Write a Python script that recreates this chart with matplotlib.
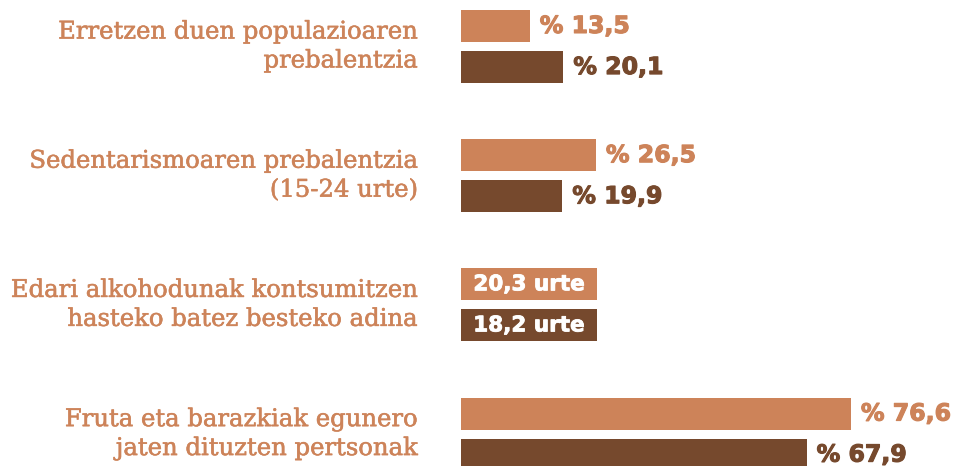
import matplotlib
matplotlib.use("Agg")
import matplotlib.pyplot as plt
import matplotlib.patheffects as pe

# data
categories = [
    "Erretzen duen populazioaren\nprebalentzia",
    "Sedentarismoaren prebalentzia\n(15-24 urte)",
    "Edari alkohodunak kontsumitzen\nhasteko batez besteko adina",
    "Fruta eta barazkiak egunero\njaten dituzten pertsonak",
]
values_a = [13.5, 26.5, 20.3, 76.6]
values_b = [20.1, 19.9, 18.2, 67.9]
units = ["%", "%", "urte", "%"]
box_width = 26.7   # fixed box length used for the "urte" rows

c_light = "#cd8359"
c_dark = "#76492d"
sans = ["DejaVu Sans"]
serif = ["DejaVu Serif"]


def fmt(v):
    return f"{v:.1f}".replace(".", ",")


fig = plt.figure(figsize=(9.71, 4.66), dpi=100)
ax = fig.add_axes([461 / 971, 0, 510 / 971, 1])
ax.set_xlim(0, 510 / 5.09)
ax.set_ylim(3.247, -0.36)
ax.axis("off")

off = 0.159
h = 0.248
for i, (cat, a, b, u) in enumerate(zip(categories, values_a, values_b, units)):
    for v, y, col in ((a, i - off, c_light), (b, i + off, c_dark)):
        if u == "%":
            ax.barh(y, v, height=h, color=col, lw=0)
            t = ax.annotate(f"% {fmt(v)}", xy=(v, y), xytext=(10, 0),
                            textcoords="offset pixels", ha="left", va="center",
                            fontsize=17, fontweight="bold", family=sans, color=col)
            t.set_path_effects([pe.withStroke(linewidth=0.8, foreground=col)])
        else:
            ax.barh(y, box_width, height=h, color=col, lw=0)
            t = ax.text(box_width / 2, y, f"{fmt(v)} {u}", ha="center", va="center",
                        fontsize=15.5, fontweight="bold", family=sans, color="white")
            t.set_path_effects([pe.withStroke(linewidth=0.6, foreground="white")])
    t = ax.annotate(cat, xy=(0, i), xytext=(-43, 0), textcoords="offset pixels",
                    ha="right", va="center", fontsize=17.5, family=serif,
                    color=c_light, linespacing=1.33, annotation_clip=False)
    t.set_path_effects([pe.withStroke(linewidth=0.4, foreground=c_light)])

fig.savefig("out.png", dpi=100)
